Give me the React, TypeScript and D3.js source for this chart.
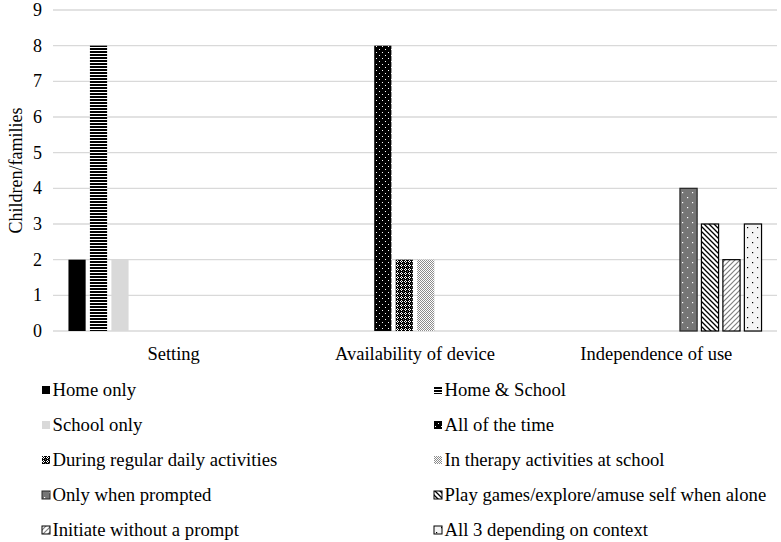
import * as d3 from "d3";

// chart data
const categories = ["Setting", "Availability of device", "Independence of use"];
const seriesNames = [
  "Home only",
  "Home & School",
  "School only",
  "All of the time",
  "During regular daily activities",
  "In therapy activities at school",
  "Only when prompted",
  "Play games/explore/amuse self when alone",
  "Initiate without a prompt",
  "All 3 depending on context",
];
const homeOnly = [2, null, null];
const homeAndSchool = [8, null, null];
const schoolOnly = [2, null, null];
const allOfTheTime = [null, 8, null];
const duringDaily = [null, 2, null];
const inTherapy = [null, 2, null];
const onlyPrompted = [null, null, 4];
const playAlone = [null, null, 3];
const initiate = [null, null, 2];
const allThree = [null, null, 3];
const seriesValues = [
  homeOnly, homeAndSchool, schoolOnly, allOfTheTime, duringDaily,
  inTherapy, onlyPrompted, playAlone, initiate, allThree,
];
const yTicks = [0, 1, 2, 3, 4, 5, 6, 7, 8, 9];

const W = 781;
const H = 542;
const FONT = "'Liberation Serif', 'Times New Roman', serif";

// fill and stroke for each series (pattern ids defined in <defs>)
const fills = [
  "#000", "url(#pHoriz)", "#d9d9d9", "url(#pDots)", "url(#pCheck)",
  "url(#pGrey50)", "url(#pDarkDots)", "url(#pDiagDown)", "url(#pDiagUp)", "url(#pLightDots)",
];
const strokes = [null, null, null, null, null, null, "#262626", "#000", "#000", "#000"];

export default function App() {
  const margin = { top: 10, left: 53, right: 4, bottom: 211 };
  const x0 = d3.scaleBand().domain(categories).range([margin.left, W - margin.right]).padding(0);
  const x1 = d3
    .scaleBand()
    .domain(seriesNames)
    .range([0, x0.bandwidth()])
    .paddingInner(0.2)
    .paddingOuter(0.72);
  const y = d3.scaleLinear().domain([0, 9]).range([H - margin.bottom, margin.top]);

  const legendRows = d3.range(Math.ceil(seriesNames.length / 2));
  const legendY = d3.scalePoint().domain(legendRows).range([390, 530]);
  const legendX = [42, 434];

  return (
    <svg width={W} height={H} style={{ position: "absolute", left: 0, top: 0, background: "#fff" }}>
      <defs>
        <pattern id="pHoriz" width="4" height="3" patternUnits="userSpaceOnUse">
          <rect width="4" height="3" fill="#fff" />
          <rect width="4" height="2" fill="#000" />
        </pattern>
        <pattern id="pDots" width="6" height="6" patternUnits="userSpaceOnUse">
          <rect width="6" height="6" fill="#000" />
          <rect x="1" y="1" width="1" height="1" fill="#fff" />
          <rect x="4" y="4" width="1" height="1" fill="#fff" />
        </pattern>
        <pattern id="pCheck" width="4" height="4" patternUnits="userSpaceOnUse">
          <rect width="4" height="4" fill="#000" />
          <rect x="1" y="0" width="1" height="1" fill="#fff" />
          <rect x="0" y="1" width="1" height="1" fill="#fff" />
          <rect x="2" y="1" width="1" height="1" fill="#fff" />
          <rect x="1" y="2" width="1" height="1" fill="#fff" />
          <rect x="3" y="3" width="1" height="1" fill="#666" />
        </pattern>
        <pattern id="pGrey50" width="2" height="2" patternUnits="userSpaceOnUse">
          <rect width="2" height="2" fill="#fff" />
          <rect width="1" height="1" fill="#8c8c8c" />
          <rect x="1" y="1" width="1" height="1" fill="#8c8c8c" />
        </pattern>
        <pattern id="pDarkDots" width="10" height="10" patternUnits="userSpaceOnUse">
          <rect width="10" height="10" fill="#767676" />
          <rect x="2" y="2" width="1.2" height="1.2" fill="#fff" />
          <rect x="7" y="7" width="1.2" height="1.2" fill="#fff" />
        </pattern>
        <pattern id="pLightDots" width="10" height="10" patternUnits="userSpaceOnUse">
          <rect width="10" height="10" fill="#f4f4f4" />
          <rect x="2" y="2" width="1.2" height="1.2" fill="#000" />
          <rect x="7" y="7" width="1.2" height="1.2" fill="#000" />
        </pattern>
        <pattern id="pDiagDown" width="5" height="5" patternUnits="userSpaceOnUse">
          <rect width="5" height="5" fill="#fff" />
          <path d="M-1,-1 L6,6 M-1,4 L1,6 M4,-1 L6,1" stroke="#000" strokeWidth="1.3" />
        </pattern>
        <pattern id="pDiagUp" width="5" height="5" patternUnits="userSpaceOnUse">
          <rect width="5" height="5" fill="#fff" />
          <path d="M-1,6 L6,-1 M-1,1 L1,-1 M4,6 L6,4" stroke="#808080" strokeWidth="1.2" />
        </pattern>
      </defs>

      {/* gridlines */}
      {yTicks.map((t) => (
        <line
          key={t}
          x1={margin.left}
          x2={W - margin.right}
          y1={y(t)}
          y2={y(t)}
          stroke="#d9d9d9"
          strokeWidth={1.3}
        />
      ))}

      {/* y tick labels */}
      {yTicks.map((t) => (
        <text
          key={"l" + t}
          x={42}
          y={y(t)}
          textAnchor="end"
          dominantBaseline="central"
          fontFamily={FONT}
          fontSize={18}
          fill="#000"
        >
          {t}
        </text>
      ))}

      {/* y axis title */}
      <text
        transform={`translate(16, ${(y(0) + y(9)) / 2}) rotate(-90)`}
        textAnchor="middle"
        dominantBaseline="central"
        fontFamily={FONT}
        fontSize={18}
      >
        Children/families
      </text>

      {/* bars */}
      {seriesValues.map((vals, si) =>
        vals.map((v, ci) =>
          v == null ? null : (
            <rect
              key={si + "-" + ci}
              x={x0(categories[ci]) + x1(seriesNames[si])}
              y={y(v)}
              width={x1.bandwidth()}
              height={y(0) - y(v)}
              fill={fills[si]}
              stroke={strokes[si] || "none"}
              strokeWidth={1.2}
            />
          )
        )
      )}

      {/* category labels */}
      {categories.map((c) => (
        <text
          key={c}
          x={x0(c) + x0.bandwidth() / 2}
          y={354}
          textAnchor="middle"
          dominantBaseline="central"
          fontFamily={FONT}
          fontSize={18.5}
        >
          {c}
        </text>
      ))}

      {/* legend */}
      {seriesNames.map((s, i) => {
        const lx = legendX[i % 2];
        const ly = legendY(Math.floor(i / 2));
        return (
          <g key={s} transform={`translate(${lx}, ${ly})`}>
            <rect
              x={0}
              y={-4}
              width={8}
              height={8}
              fill={fills[i]}
              stroke={strokes[i] || "none"}
              strokeWidth={1}
            />
            <text x={10.5} y={-0.5} dominantBaseline="central" fontFamily={FONT} fontSize={18.7}>
              {s}
            </text>
          </g>
        );
      })}
    </svg>
  );
}
